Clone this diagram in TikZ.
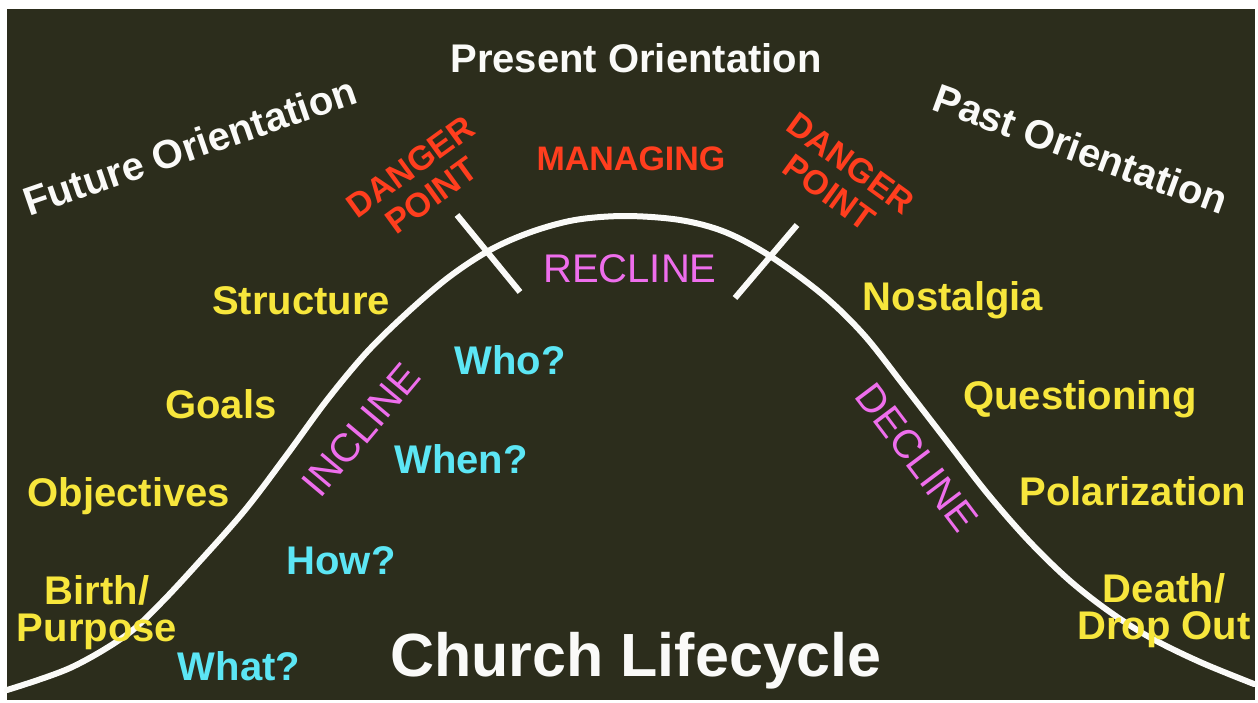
\documentclass[tikz,border=0pt]{standalone}
\usepackage{fontspec}
\setmainfont{Liberation Sans}
\definecolor{bgc}{RGB}{44,45,28}
\definecolor{cyel}{RGB}{247,230,60}
\definecolor{cred}{RGB}{255,62,30}
\definecolor{cmag}{RGB}{238,110,236}
\definecolor{ccyan}{RGB}{92,230,245}
\definecolor{cwhite}{RGB}{250,250,248}
\begin{document}
\begin{tikzpicture}[x=1pt,y=-1pt,
  lbl/.style={inner sep=0pt, align=center, font=\fontsize{40pt}{37pt}\selectfont\bfseries},
  ylw/.style={lbl, text=cyel, anchor=base},
  cyn/.style={lbl, text=ccyan, anchor=base},
  wht/.style={lbl, text=cwhite},
  rdl/.style={inner sep=0pt, align=center, text=cred, font=\fontsize{34pt}{36pt}\selectfont\bfseries},
  mgl/.style={inner sep=0pt, text=cmag, font=\fontsize{40pt}{40pt}\selectfont},
  lifecurve/.style={draw=cwhite, line width=6pt, line cap=round},
  tickline/.style={draw=cwhite, line width=6pt}
]
\useasboundingbox (0,0) rectangle (1258,702);
\fill[white] (0,0) rectangle (1258,702);
\fill[bgc] (7,9) rectangle (1255,700);

% curve
\draw[lifecurve] plot[smooth, tension=0.55] coordinates {
 (7,690) (70,668) (125,636) (160,604) (200,561) (245,510) (286,456) (327,400)
 (367,352) (408,312) (449,277) (490,250) (531,232) (575,220) (625,216) (680,220)
 (725,232) (770,256) (823,295) (864,335) (905,387) (946,440) (987,493) (1028,540)
 (1069,580) (1110,612) (1151,638) (1200,662) (1254,684)};

% danger ticks
\coordinate (tla) at (457,215);
\coordinate (tlb) at (520,292);
\coordinate (tra) at (797,225);
\coordinate (trb) at (735,298);
\draw[tickline] (tla) -- (tlb);
\draw[tickline] (tra) -- (trb);

% orientation titles
\node[wht, anchor=base] (present) at (636,72) {Present Orientation};
\node[wht, rotate=19] (future) at (190,146) {Future Orientation};
\node[wht, rotate=-20] (past) at (1081,149) {Past Orientation};

% red labels
\node[rdl, rotate=36] (dangerL) at (421,181) {DANGER\\POINT};
\node[rdl, rotate=-36] (dangerR) at (840,178) {DANGER\\POINT};
\node[rdl, anchor=base] (managing) at (631,170) {MANAGING};

% magenta
\node[mgl, anchor=base] (recline) at (630,282) {RECLINE};
\node[mgl, rotate=50] (incline) at (361,430) {INCLINE};
\node[mgl, rotate=-53] (decline) at (917,457) {DECLINE};

% yellow
\node[ylw] (structure) at (301,314) {Structure};
\node[ylw] (goals) at (221,418) {Goals};
\node[ylw] (objectives) at (129,506) {Objectives};
\node[ylw] (birth) at (97,641) {Birth/\\Purpose};
\node[ylw] (nostalgia) at (953,310) {Nostalgia};
\node[ylw] (questioning) at (1080,409) {Questioning};
\node[ylw] (polarization) at (1133,505) {Polarization};
\node[ylw] (death) at (1164,639) {Death/\\Drop Out};

% cyan
\node[cyn] (who) at (510,374) {Who?};
\node[cyn] (when) at (461,473) {When?};
\node[cyn] (how) at (341,574) {How?};
\node[cyn] (what) at (239,680) {What?};

% title
\node[lbl, text=cwhite, anchor=base, font=\fontsize{61pt}{61pt}\selectfont\bfseries] (title) at (636,676) {Church Lifecycle};
\end{tikzpicture}
\end{document}
